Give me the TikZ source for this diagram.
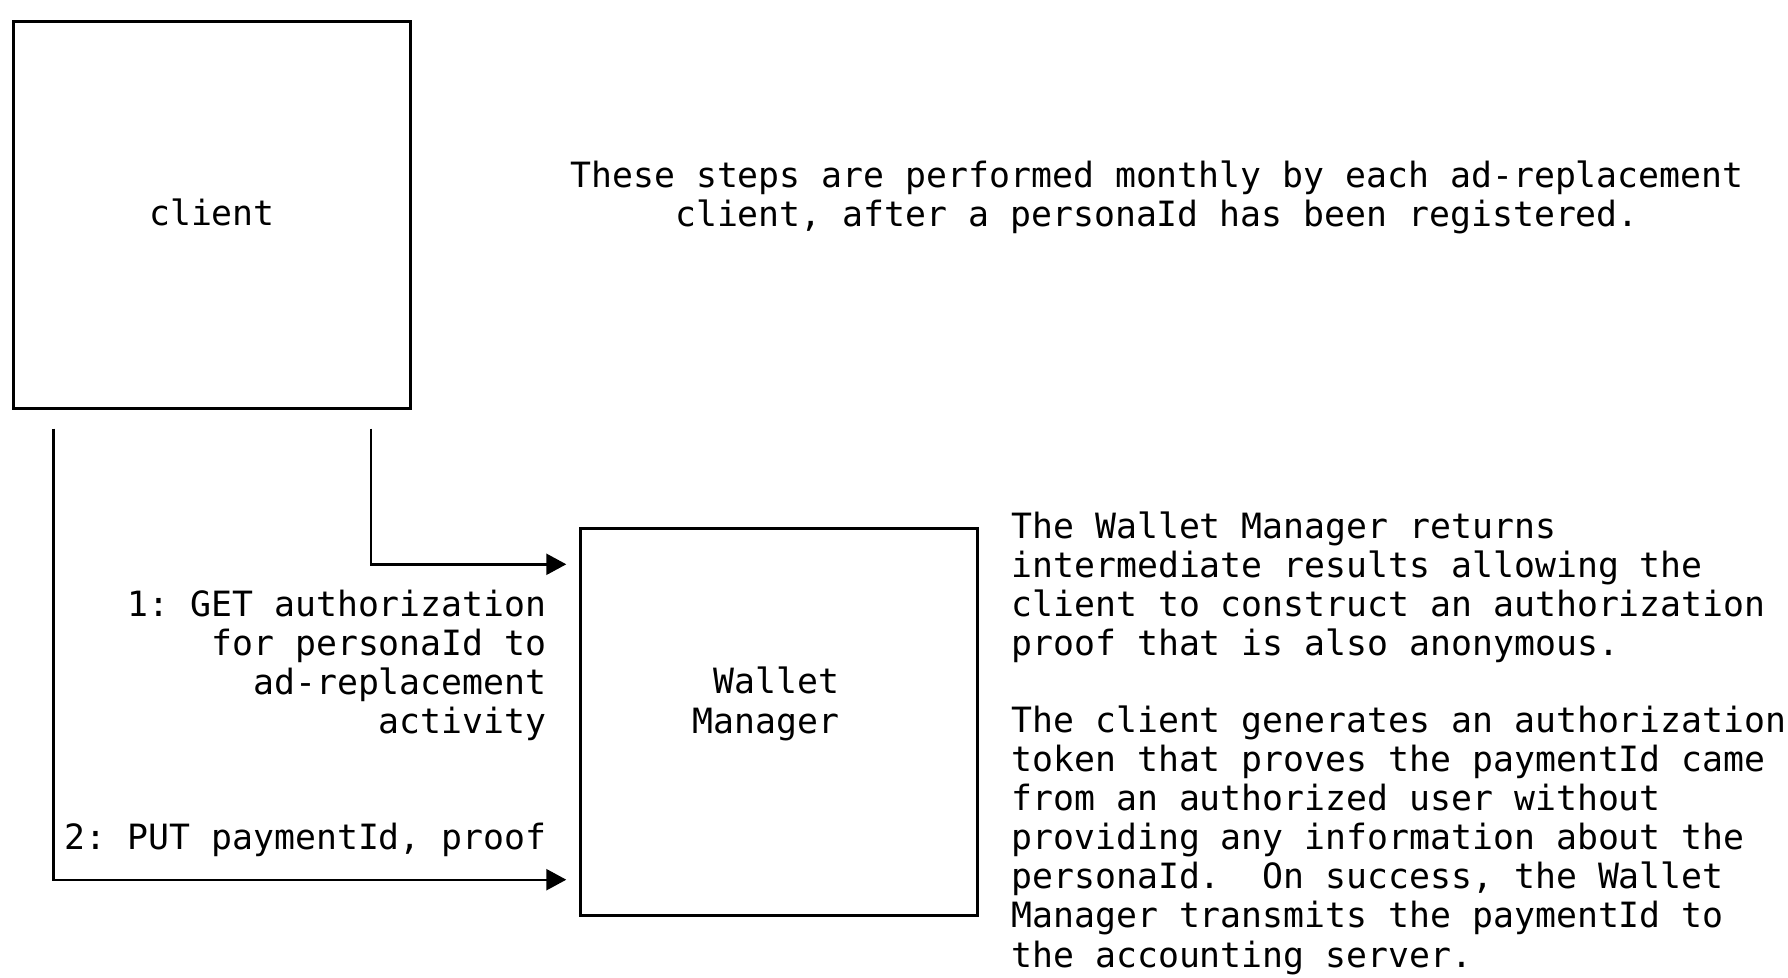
\documentclass[tikz,border=0pt]{standalone}
\usepackage{fontspec}
\setmonofont{DejaVu Sans Mono}
\usetikzlibrary{arrows.meta,calc,positioning}
\tikzset{
  box/.style={draw, line width=1.7pt, minimum width=198.5pt, minimum height=193.5pt, inner sep=0pt},
  flow/.style={line width=1.2pt, -{Triangle[length=10pt,width=10.5pt]}},
  txt/.style={font=\ttfamily\fontsize{17.4pt}{19.55pt}\selectfont, inner sep=0pt},
}
\begin{document}
\begin{tikzpicture}[x=0.5pt,y=-0.5pt]
\useasboundingbox (0,0) rectangle (1788,978);

% boxes
\node[box, txt, text depth=2.5pt] (client) at (212,215) {client};
\node[box] (wm) at (779,722) {};
\node[txt, align=right, anchor=base east] (wmname) at (840,733) {Wallet\\Manager};

% connectors
\coordinate (get start) at ($(client.south east)+(-41,18.5)$);
\coordinate (put start) at ($(client.south west)+(41.5,18.5)$);
\coordinate (get end) at ($(wm.north west)+(-12.5,37.5)$);
\coordinate (put end) at ($(wm.south west)+(-12.5,-37.5)$);
\draw[flow] (get start) |- (get end);
\draw[flow] (put start) |- (put end);

% labels
\node[txt, align=right, anchor=base east] (getlabel) at (547,733.5)
  {1: GET authorization\\for personaId to\\ad-replacement\\activity};
\node[txt, anchor=base east] (putlabel) at (547,849) {2: PUT paymentId, proof};

% notes
\node[txt, align=center, anchor=base] (intro) at (1157,226.5)
  {These steps are performed monthly by each ad-replacement\\client, after a personaId has been registered.};
\node[txt, align=left, anchor=base west] (note1) at (1011,655.5)
  {The Wallet Manager returns\\intermediate results allowing the\\client to construct an authorization\\proof that is also anonymous.};
\node[txt, align=left, anchor=base west] (note2) at (1011,967)
  {The client generates an authorization\\token that proves the paymentId came\\from an authorized user without\\providing any information about the\\personaId.~~On success, the Wallet\\Manager transmits the paymentId to\\the accounting server.};
\end{tikzpicture}
\end{document}
